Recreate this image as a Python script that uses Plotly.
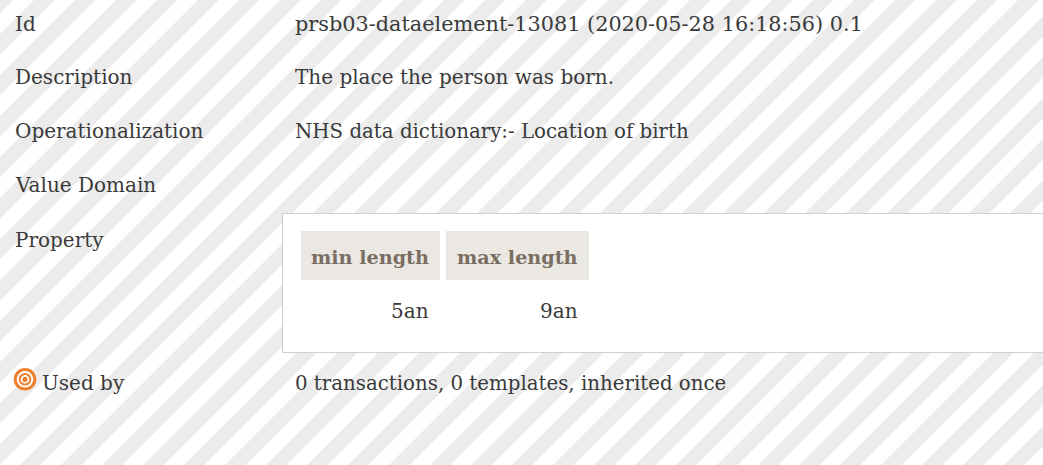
import plotly.graph_objects as go

labels = ["Id", "Description", "Operationalization", "Value Domain", "Property", "Used by"]
label_y = [24, 77, 131, 185, 240, 383]
label_x = [15, 15, 15, 15, 15, 42]
label_size = [20, 20, 20, 20, 20, 20]
values = ["prsb03-dataelement-13081 (2020-05-28 16:18:56) 0.1",
          "The place the person was born.",
          "NHS data dictionary:- Location of birth",
          "0 transactions, 0 templates, inherited once"]
value_y = [24, 77, 131, 383]
value_size = [20.8, 20, 19.8, 19.8]
headers = ["min length", "max length"]
cells = ["5an", "9an"]

W, H = 1043, 465
FONT = "DejaVu Serif"
TEXT = "#3a3a3a"
GRAY = "#ececec"

PERIOD = 41.0
START = 34.0
GW = 20.5

shapes = []
k = START - PERIOD
parts = []
while k < W + H + PERIOD:
    a, b = k, k + GW
    parts.append(f"M{a},0 L{b},0 L{b-H-10},{H+10} L{a-H-10},{H+10} Z")
    k += PERIOD
shapes.append(dict(type="path", path=" ".join(parts), fillcolor=GRAY, line_width=0, layer="below"))

# panel
shapes.append(dict(type="rect", x0=282.5, y0=213.5, x1=1050, y1=352.5, fillcolor="white",
                   line=dict(color="#d0d0d0", width=1), layer="below"))
for x0, x1 in [(301, 440), (446, 589)]:
    shapes.append(dict(type="rect", x0=x0, y0=231, x1=x1, y1=280, fillcolor="#ebe8e4", line_width=0, layer="below"))

# target icon
cx, cy = 25, 379.3
for r, c in [(11.3, "#ee7f2d"), (8.3, "#ffffff"), (6.3, "#ee7f2d"), (4.3, "#ffffff"), (2.6, "#ee7f2d")]:
    shapes.append(dict(type="circle", x0=cx-r, x1=cx+r, y0=cy-r, y1=cy+r, fillcolor=c, line_width=0, layer="below"))

ann = []
def t(x, y, s, size, anchor="left", color=TEXT, bold=False):
    ann.append(dict(x=x, y=y, text=f"<b>{s}</b>" if bold else s, xref="x", yref="y", showarrow=False,
                    xanchor=anchor, yanchor="middle", borderpad=0, borderwidth=0,
                    font=dict(family=FONT, size=size, color=color)))

for lab, x, y, s in zip(labels, label_x, label_y, label_size):
    t(x, y, lab, s)
for v, y, s in zip(values, value_y, value_size):
    t(295, y, v, s)
for h, x in zip(headers, [429, 578]):
    t(x, 257, h, 19.2, anchor="right", color="#7a6e62", bold=True)
for c, x in zip(cells, [429, 578]):
    t(x, 311, c, 20, anchor="right")

fig = go.Figure()
fig.update_layout(width=W, height=H, margin=dict(l=0, r=0, t=0, b=0), paper_bgcolor="white", plot_bgcolor="white",
                  shapes=shapes, annotations=ann, showlegend=False,
                  xaxis=dict(range=[0, W], visible=False, fixedrange=True),
                  yaxis=dict(range=[H, 0], visible=False, fixedrange=True))
fig.write_html("out.html", config={"displayModeBar": False},
               post_script="document.body.style.margin='0';document.body.style.overflow='hidden';")
